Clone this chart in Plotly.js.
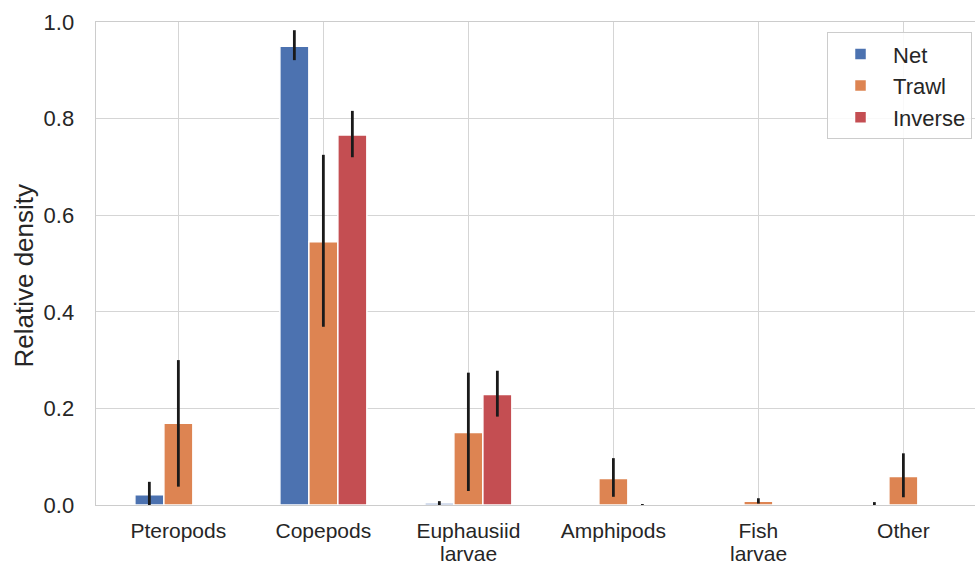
<!DOCTYPE html>
<html>
<head>
<meta charset="utf-8">
<script src="https://cdn.plot.ly/plotly-3.0.1.min.js"></script>
<style>html,body{margin:0;padding:0;overflow:hidden;background:#fff}</style>
</head>
<body>
<div id="chart" style="width:975px;height:566px"></div>
<script>
const categories = ["Pteropods", "Copepods", "Euphausiid", "Amphipods", "Fish", "Other"];
const categorySecondLine = ["", "", "larvae", "", "larvae", ""];

const netValues   = [0.021, 0.950, 0.004, 0.000, 0.000, 0.001];
const netLow      = [0.000, 0.921, 0.000, 0.000, 0.000, 0.000];
const netHigh     = [0.048, 0.983, 0.008, 0.000, 0.000, 0.006];

const trawlValues = [0.169, 0.545, 0.150, 0.055, 0.008, 0.059];
const trawlLow    = [0.038, 0.369, 0.029, 0.017, 0.003, 0.016];
const trawlHigh   = [0.300, 0.725, 0.274, 0.097, 0.014, 0.107];

const invValues   = [0.000, 0.766, 0.229, 0.001, 0.000, 0.000];
const invLow      = [0.000, 0.720, 0.183, 0.000, 0.000, 0.000];
const invHigh     = [0.000, 0.816, 0.278, 0.002, 0.000, 0.000];

const yTicks = [0, 0.2, 0.4, 0.6, 0.8, 1.0];
const yTitle = "Relative density";

const xIdx = categories.map((c, i) => i);
const FONT = "Liberation Sans, Arial, sans-serif";
const TXT = "#262626";

function barTrace(name, vals, lo, hi, color) {
  return {
    type: "bar", name: name, x: xIdx, y: vals,
    marker: {color: color, line: {color: "#ffffff", width: 1.5}},
    error_y: {
      type: "data", symmetric: false,
      array: hi.map((h, i) => Math.max(0, h - vals[i])),
      arrayminus: lo.map((l, i) => Math.max(0, vals[i] - l)),
      color: "#1a1a1a", thickness: 2.8, width: 0
    }
  };
}

const data = [
  barTrace("Net", netValues, netLow, netHigh, "#4C72B0"),
  barTrace("Trawl", trawlValues, trawlLow, trawlHigh, "#DD8452"),
  barTrace("Inverse", invValues, invLow, invHigh, "#C44E52")
];

const annotations = categorySecondLine.map((t, i) => ({
  text: t, x: i, xref: "x", y: 0, yref: "paper",
  xanchor: "center", yanchor: "middle", yshift: -48,
  showarrow: false, borderpad: 0, font: {size: 21, color: TXT, family: FONT}
})).filter(a => a.text !== "");

annotations.push({
  text: yTitle, textangle: -90, showarrow: false,
  xref: "paper", x: 0, xanchor: "center", xshift: -73,
  yref: "paper", y: 0.5, yanchor: "middle", yshift: -12,
  font: {size: 26, color: TXT, family: FONT}
});

const layout = {
  width: 975, height: 566,
  margin: {l: 96, r: 0, t: 22, b: 61, pad: 0},
  paper_bgcolor: "#ffffff", plot_bgcolor: "#ffffff",
  font: {family: FONT, color: TXT, size: 22},
  barmode: "group", bargap: 0.4, bargroupgap: 0,
  xaxis: {
    range: [-0.568, 5.494],
    tickmode: "array", tickvals: xIdx, ticktext: categories,
    showgrid: true, gridcolor: "#d5d5d5", gridwidth: 1.4,
    showline: true, linecolor: "#cccccc", linewidth: 1.4, mirror: true,
    ticks: "outside", ticklen: 6, tickcolor: "rgba(0,0,0,0)",
    zeroline: false,
    tickfont: {size: 21, color: TXT}
  },
  yaxis: {
    range: [0, 1.0],
    tickmode: "array", tickvals: yTicks, tickformat: ".1f",
    showgrid: true, gridcolor: "#d5d5d5", gridwidth: 1.4,
    showline: true, linecolor: "#cccccc", linewidth: 1.4,
    ticks: "outside", ticklen: 16, tickcolor: "rgba(0,0,0,0)",
    zeroline: false,
    tickfont: {size: 22, color: TXT}
  },
  annotations: annotations,
  legend: {
    x: 0.9966, xanchor: "right", y: 0.979, yanchor: "top",
    bgcolor: "rgba(255,255,255,0.85)", bordercolor: "#cccccc", borderwidth: 1,
    font: {size: 22, color: TXT},
    itemwidth: 55
  },
  showlegend: true
};

Plotly.newPlot("chart", data, layout, {displayModeBar: false, staticPlot: true});
</script>
</body>
</html>
